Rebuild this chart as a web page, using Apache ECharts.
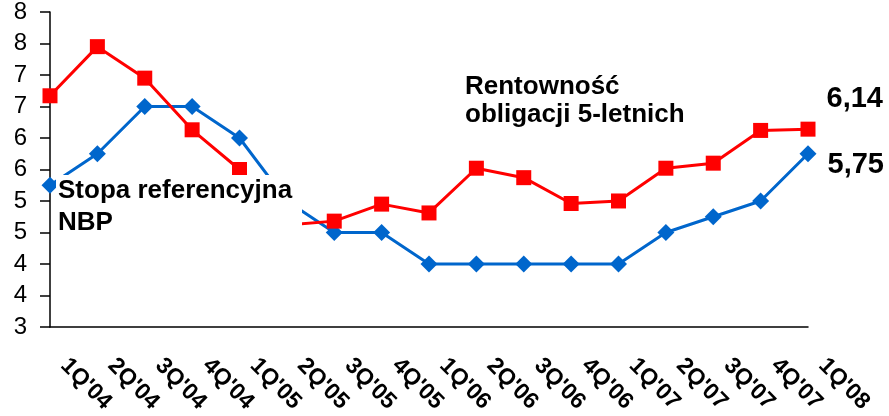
<!DOCTYPE html>
<html>
<head>
<meta charset="utf-8">
<script src="https://cdn.jsdelivr.net/npm/echarts@6/dist/echarts.min.js"></script>
<style>
  html, body { margin: 0; padding: 0; background: #fff; }
  #chart { width: 889px; height: 416px; }
</style>
</head>
<body>
<div id="chart"></div>
<script>
// kwartały
var categories = ["1Q'04", "2Q'04", "3Q'04", "4Q'04", "1Q'05", "2Q'05", "3Q'05", "4Q'05", "1Q'06",
  "2Q'06", "3Q'06", "4Q'06", "1Q'07", "2Q'07", "3Q'07", "4Q'07", "1Q'08"]
// rentowność obligacji 5-letnich (odczyt z wykresu)
var bondYield = [6.67, 7.45, 6.95, 6.13, 5.50, 4.62, 4.68, 4.95, 4.81, 5.52, 5.37, 4.96, 5.00, 5.52, 5.60, 6.12, 6.14]
// stopa referencyjna NBP
var refRate = [5.25, 5.75, 6.5, 6.5, 6.0, 5.0, 4.5, 4.5, 4.0, 4.0, 4.0, 4.0, 4.0, 4.5, 4.75, 5.0, 5.75]

var FONT = "'Liberation Sans', Arial, sans-serif"

function withLastLabel(values, offset) {
  return values.map(function (v, i) {
    if (i !== values.length - 1) return v
    return {
      value: v,
      label: {
        show: true,
        position: 'right',
        distance: 11,
        offset: offset,
        fontFamily: FONT,
        fontSize: 29,
        fontWeight: 'bold',
        color: '#000',
        formatter: function (p) { return p.value.toFixed(2).replace('.', ',') }
      }
    }
  })
}

var chart = echarts.init(document.getElementById('chart'))
var option = {
  animation: false,
  backgroundColor: '#fff',
  grid: { left: 50, right: 81, top: 10, bottom: 89 },
  xAxis: {
    type: 'category',
    boundaryGap: false,
    data: categories,
    axisLine: { lineStyle: { color: '#000', width: 1.5 } },
    axisTick: { show: false },
    axisLabel: {
      interval: 0,
      rotate: -45,
      margin: 21,
      padding: [0, 0, 0, 20],
      fontFamily: FONT,
      fontSize: 23,
      fontWeight: 'bold',
      color: '#000'
    }
  },
  yAxis: {
    type: 'value',
    min: 3,
    max: 8,
    interval: 0.5,
    splitLine: { show: false },
    axisLine: { show: true, lineStyle: { color: '#000', width: 1.5 } },
    axisTick: { show: true, inside: false, length: 10, lineStyle: { color: '#000', width: 1.5 } },
    axisLabel: {
      margin: 23,
      fontFamily: FONT,
      fontSize: 24,
      color: '#000',
      formatter: function (v) { return Math.round(v) }
    }
  },
  series: [
    {
      name: 'Rentowność obligacji 5-letnich',
      type: 'line',
      data: withLastLabel(bondYield, [0, -30]),
      symbol: 'rect',
      symbolSize: 15,
      lineStyle: { color: '#ff0000', width: 3 },
      itemStyle: { color: '#ff0000' },
      z: 3
    },
    {
      name: 'Stopa referencyjna NBP',
      type: 'line',
      data: withLastLabel(refRate, [0, 11]),
      symbol: 'diamond',
      symbolSize: 17,
      lineStyle: { color: '#0066cc', width: 3 },
      itemStyle: { color: '#0066cc' },
      z: 2
    }
  ],
  graphic: [
    {
      type: 'text',
      left: 56,
      top: 175,
      z: 100,
      style: {
        text: 'Stopa referencyjna\nNBP',
        font: 'bold 26px ' + FONT,
        lineHeight: 32,
        fill: '#000',
        backgroundColor: '#fff',
        padding: [0, 4, 4, 2],
        width: 240
      }
    },
    {
      type: 'text',
      left: 465,
      top: 73,
      z: 100,
      style: {
        text: 'Rentowność\nobligacji 5-letnich',
        font: 'bold 26px ' + FONT,
        lineHeight: 28,
        fill: '#000'
      }
    }
  ]
}
chart.setOption(option)
</script>
</body>
</html>
